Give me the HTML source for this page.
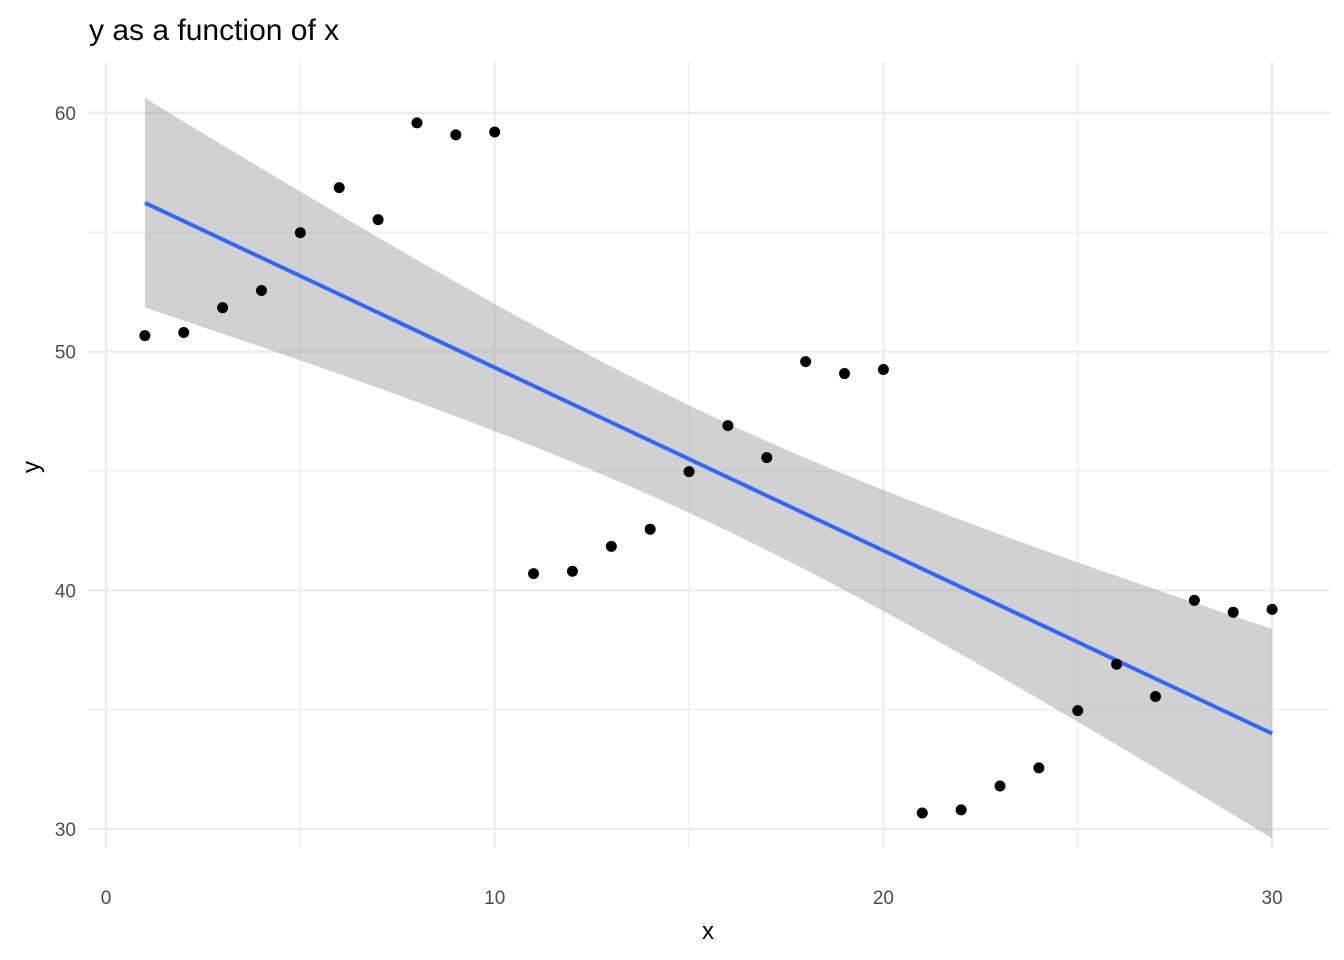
<!DOCTYPE html>
<html><head><meta charset="utf-8"><style>
body{margin:0;background:#fff;}
svg{display:block;font-family:"Liberation Sans",Arial,sans-serif;}
</style></head><body>
<svg id="chart" width="1344" height="960">
<text x="89" y="40" font-size="30" fill="#000">y as a function of x</text>
<g id="grid"></g><g id="ribbon"></g><g id="line"></g><g id="pts"></g><g id="axes"></g>
<text x="708" y="939" font-size="24" text-anchor="middle">x</text>
<text x="39" y="467" font-size="24" text-anchor="middle" transform="rotate(-90 39 467)">y</text>
</svg>
<script>
const xs=[1,2,3,4,5,6,7,8,9,10,11,12,13,14,15,16,17,18,19,20,21,22,23,24,25,26,27,28,29,30];
const ys=[50.67,50.8,51.84,52.56,54.98,56.87,55.53,59.58,59.08,59.2,40.7,40.8,41.84,42.56,44.97,46.9,45.56,49.58,49.08,49.25,30.67,30.8,31.8,32.56,34.96,36.9,35.55,39.58,39.08,39.2];
const xTicks=[0,10,20,30];
const yTicks=[30,40,50,60];
const xMinor=[5,15,25];
const yMinor=[35,45,55];
const NS="http://www.w3.org/2000/svg";
const X=v=>106+v*38.87;
const Y=v=>829-(v-30)*23.87;
function mk(tag,attrs,parent){const e=document.createElementNS(NS,tag);for(const k in attrs)e.setAttribute(k,attrs[k]);document.getElementById(parent).appendChild(e);return e;}
const L=88,R=1330,T=62,B=848;
xMinor.forEach(v=>{const e=mk('line',{x1:X(v),x2:X(v),y1:T,y2:B,stroke:'#ebebeb','stroke-width':1.1},'grid');

});
yMinor.forEach(v=>{const e=mk('line',{x1:L,x2:R,y1:Y(v),y2:Y(v),stroke:'#ebebeb','stroke-width':1.1},'grid');

});
xTicks.forEach(v=>{const e=mk('line',{x1:X(v),x2:X(v),y1:T,y2:B,stroke:'#ebebeb','stroke-width':2.2},'grid');


const t=mk('text',{x:X(v),y:904,'font-size':19,fill:'#4d4d4d','text-anchor':'middle'},'axes');t.textContent=v;

});
yTicks.forEach(v=>{const e=mk('line',{x1:L,x2:R,y1:Y(v),y2:Y(v),stroke:'#ebebeb','stroke-width':2.2},'grid');


const t=mk('text',{x:76,y:Y(v)+7,'font-size':19,fill:'#4d4d4d','text-anchor':'end'},'axes');t.textContent=v;

});
const n=xs.length,mx=xs.reduce((a,b)=>a+b)/n,my=ys.reduce((a,b)=>a+b)/n;
let sxx=0,sxy=0;xs.forEach((x,i)=>{sxx+=(x-mx)**2;sxy+=(x-mx)*(ys[i]-my);});
const b=sxy/sxx,a=my-b*mx;let sse=0;xs.forEach((x,i)=>{sse+=(ys[i]-a-b*x)**2;});
const s=Math.sqrt(sse/(n-2)),tq=2.048;
const x0=Math.min(...xs),x1=Math.max(...xs);let up=[],lo=[];
for(let k=0;k<=80;k++){const x=x0+(x1-x0)*k/80,f=a+b*x,se=s*Math.sqrt(1/n+(x-mx)**2/sxx);
up.push(X(x)+','+Y(f+tq*se));lo.unshift(X(x)+','+Y(f-tq*se));}
const rb=mk('polygon',{points:up.concat(lo).join(' '),fill:'#999',opacity:0.45},'ribbon');


const ln=mk('line',{x1:X(x0),y1:Y(a+b*x0),x2:X(x1),y2:Y(a+b*x1),stroke:'#3366FF','stroke-width':4},'line');


xs.forEach((x,i)=>{const c=mk('circle',{cx:X(x),cy:Y(ys[i]),r:5.5,fill:'#000'},'pts');

});
</script>
</body></html>
